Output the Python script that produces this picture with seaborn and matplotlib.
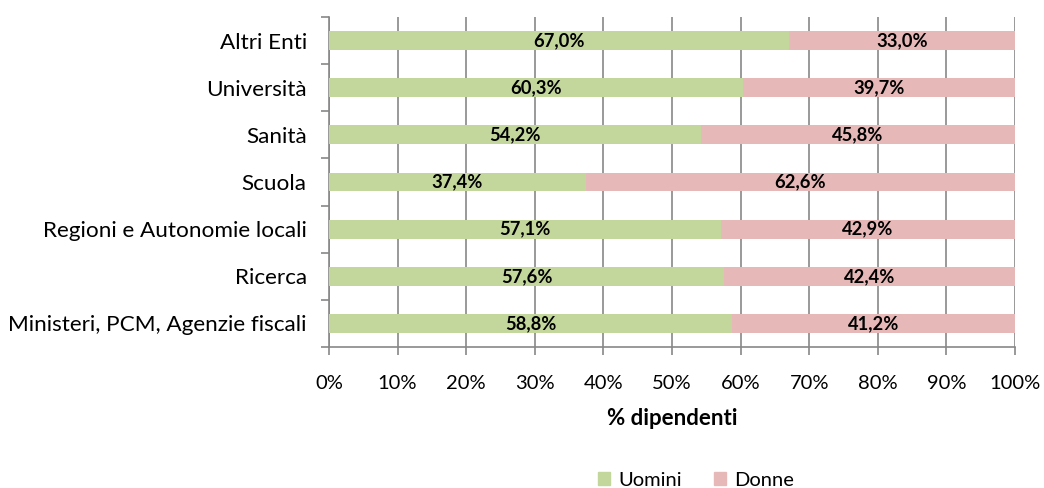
import matplotlib
matplotlib.use("Agg")
import matplotlib.pyplot as plt
import seaborn as sns
import pandas as pd
import numpy as np
from matplotlib.ticker import MultipleLocator, FixedLocator, PercentFormatter
from matplotlib.patches import Patch

categories = ["Altri Enti", "Università", "Sanità", "Scuola",
              "Regioni e Autonomie locali", "Ricerca", "Ministeri, PCM, Agenzie fiscali"]
uomini = [67.0, 60.3, 54.2, 37.4, 57.1, 57.6, 58.8]
donne = [33.0, 39.7, 45.8, 62.6, 42.9, 42.4, 41.2]
series_names = ["Uomini", "Donne"]
green = "#C3D69B"
pink = "#E6B9B8"
grid_c = "#878787"

sns.set_style("white")
plt.rcParams['font.family'] = ['Lato', 'DejaVu Sans']
plt.rcParams['text.color'] = 'black'
plt.rcParams['xtick.color'] = 'black'
plt.rcParams['ytick.color'] = 'black'
plt.rcParams['axes.labelcolor'] = 'black'

df = pd.DataFrame({"cat": categories, "Uomini": uomini, "Donne": donne})
df["total"] = df["Uomini"] + df["Donne"]

fig = plt.figure(figsize=(10.44, 4.88), dpi=100)
ax = fig.add_axes([329/1044, 1-347/488, (1015-329)/1044, (347-17)/488])

sns.barplot(data=df, x="total", y="cat", orient="h", color=pink, width=0.4,
            saturation=1, ax=ax, zorder=3, linewidth=0)
sns.barplot(data=df, x="Uomini", y="cat", orient="h", color=green, width=0.4,
            saturation=1, ax=ax, zorder=4, linewidth=0)

for i, (u, d) in enumerate(zip(uomini, donne)):
    ax.text(u/2, i, f"{u:.1f}%".replace(".", ","), ha="center", va="center",
            fontsize=13.2, fontweight="bold", zorder=5)
    ax.text(u + d/2, i, f"{d:.1f}%".replace(".", ","), ha="center", va="center",
            fontsize=13.2, fontweight="bold", zorder=5)

ax.set_xlim(0, 100)
ax.set_ylim(len(categories)-0.5, -0.5)
ax.xaxis.set_major_locator(MultipleLocator(10))
ax.xaxis.set_major_formatter(PercentFormatter(decimals=0))
ax.grid(axis="x", color=grid_c, linewidth=1.2, zorder=0)
ax.set_axisbelow(True)

for s in ["top", "right"]:
    ax.spines[s].set_visible(False)
for s in ["left", "bottom"]:
    ax.spines[s].set_color(grid_c)
    ax.spines[s].set_linewidth(1.2)

ax.yaxis.set_minor_locator(FixedLocator(np.arange(-0.5, len(categories), 1)))
ax.tick_params(axis="y", which="major", length=0, labelsize=16.2, pad=16)
ax.tick_params(axis="y", which="minor", length=6, width=1.2, color=grid_c, left=True)
ax.tick_params(axis="x", which="major", length=6, width=1.2, color=grid_c, bottom=True,
               labelsize=14.5, pad=14)

ax.set_ylabel("")
ax.set_xlabel("% dipendenti", fontsize=16, fontweight="bold", labelpad=12)

handles = [Patch(color=green, label="Uomini"), Patch(color=pink, label="Donne")]
fig.legend(handles=handles, loc="center", bbox_to_anchor=(696/1044, 1-480/488),
           ncol=2, frameon=False, fontsize=14.5, handlelength=0.6, handleheight=0.6,
           columnspacing=1.6, handletextpad=0.4)

fig.savefig("out.png", dpi=100)
